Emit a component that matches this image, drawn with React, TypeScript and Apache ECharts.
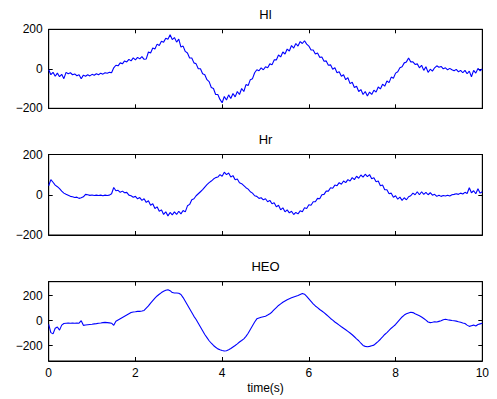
import React, { useEffect, useRef } from "react";
import * as echarts from "echarts";

const timeStep = 0.05;
const xTicks = [0, 2, 4, 6, 8, 10];
const titles = ["Hl", "Hr", "HEO"];
const xLabel = "time(s)";

const hl = [
  -5, -30, -18, -38, -22, -40, -28, -50, -18, -25,
  -20, -30, -26, -35, -30, -50, -32, -38, -30, -36,
  -28, -33, -25, -30, -22, -27, -20, -23, -18, -20,
  5, 18, 15, 30, 25, 40, 35, 48, 40, 55,
  45, 58, 50, 62, 48, 50, 85, 80, 105, 100,
  125, 118, 140, 135, 155, 150, 172, 148, 158, 135,
  150, 110, 115, 88, 80, 55, 55, 30, 25, 0,
  0, -25, -30, -55, -65, -95, -100, -130, -130, -155,
  -172, -140, -158, -132, -150, -125, -142, -115, -130, -100,
  -115, -80, -85, -55, -50, -20, -5, -10, 5, -5,
  10, 5, 25, 20, 45, 45, 70, 60, 85, 75,
  100, 90, 118, 105, 128, 115, 138, 128, 142, 125,
  115, 95, 95, 75, 80, 58, 60, 38, 40, 18,
  20, -2, 5, -20, -15, -38, -30, -55, -45, -75,
  -68, -95, -88, -115, -105, -130, -115, -138, -118, -130,
  -108, -118, -92, -102, -78, -88, -62, -70, -42, -48,
  -22, -15, 5, 10, 30, 35, 55, 35, 35, 22,
  25, 5, 18, -8, 10, -18, -2, -12, 5, 15,
  8, 12, 0, 5, -5, 2, -5, -10, -3, -15,
  -8, -20, -8, -25, -12, -40, -8, -22, 2, -10,
  0,
];

const hr = [
  45, 75, 62, 48, 40, 30, 18, 8, 2, -3,
  -8, -10, -14, -12, -18, -15, -10, 2, 0, -3,
  -1, -4, -2, -4, -2, -5, -2, -4, -2, 5,
  36, 20, 22, 12, 18, 10, 12, -2, -5, -12,
  -8, -20, -14, -28, -20, -38, -30, -52, -45, -68,
  -60, -82, -75, -98, -85, -105, -88, -100, -85, -98,
  -82, -95, -78, -85, -55, -48, -25, -20, -5, 5,
  15, 25, 38, 50, 60, 68, 78, 85, 88, 100,
  92, 112, 100, 108, 88, 95, 75, 78, 60, 55,
  45, 35, 28, 15, 8, -5, -8, -18, -15, -25,
  -20, -35, -28, -45, -40, -60, -52, -75, -65, -85,
  -75, -90, -82, -98, -88, -95, -80, -85, -65, -68,
  -50, -52, -35, -35, -18, -20, 0, 2, 18, 18,
  35, 32, 48, 45, 60, 52, 68, 60, 75, 68,
  85, 75, 92, 82, 98, 88, 102, 90, 100, 80,
  85, 65, 68, 45, 48, 25, 25, 5, 8, -12,
  -5, -22, -12, -28, -15, -25, -10, -5, 8, 0,
  15, 0, 15, 2, 12, 0, 10, -2, 2, -8,
  -2, -8, -4, -6, -2, -6, 0, 2, 5, 2,
  8, 4, 12, 6, 35, 10, 20, 5, 30, 8,
  15,
];

const heo = [
  -30, -95, -105, -60, -50, -75, -35, -22, -20, -19,
  -20, -19, -20, -19, -20, 0, -37, -34, -32, -30,
  -28, -25, -23, -20, -18, -15, -13, -15, -17, -20,
  -37, -5, 5, 15, 25, 35, 45, 55, 65, 70,
  72, 75, 75, 78, 82, 100, 118, 140, 160, 180,
  198, 212, 225, 235, 243, 248, 240, 225, 222, 222,
  220, 210, 185, 155, 125, 95, 65, 35, 10, -20,
  -50, -80, -110, -135, -160, -180, -198, -212, -225, -232,
  -238, -242, -240, -232, -222, -210, -198, -185, -170, -158,
  -145, -125, -100, -70, -40, -10, 15, 22, 28, 32,
  36, 45, 55, 70, 88, 105, 122, 135, 148, 158,
  168, 176, 183, 190, 196, 202, 210, 218, 212, 195,
  175, 155, 135, 118, 105, 90, 78, 65, 50, 35,
  18, 5, -10, -22, -35, -48, -60, -72, -85, -98,
  -112, -128, -145, -160, -180, -198, -205, -208, -205, -200,
  -195, -180, -165, -148, -130, -110, -95, -78, -60, -45,
  -30, -10, 10, 30, 45, 55, 62, 68, 65, 55,
  48, 40, 30, 18, 5, -10, -15, -12, -8, -10,
  -5, 0, 8, 12, 8, 5, 2, 0, -3, -8,
  -12, -18, -22, -35, -45, -40, -35, -42, -30, -25,
  -20,
];

const yMins = [-200, -200, -322];
const yMaxs = [200, 200, 312];
const yTickValues = [
  [-200, 0, 200],
  [-200, 0, 200],
  [-200, 0, 200],
];

const seriesList = [hl, hr, heo];

export default function App() {
  const ref = useRef<HTMLDivElement>(null);

  useEffect(() => {
    if (!ref.current) return;
    const chart = echarts.init(ref.current, null, { renderer: "svg" });
    const font = "Liberation Sans, Arial, Helvetica, sans-serif";
    const gridLeft = 48.7;
    const gridRight = 482.3;
    const gridTops = [29.3, 154.5, 281.7];
    const gridHeights = [79, 80.5, 79.3];

    const grids: any[] = [];
    const xAxes: any[] = [];
    const yAxes: any[] = [];
    const series: any[] = [];
    const graphics: any[] = [];

    const axisLine = { show: true, onZero: false, lineStyle: { color: "#000", width: 1 } };
    const tick = { show: true, inside: true, length: 4, lineStyle: { color: "#000", width: 1 } };

    for (let i = 0; i < 3; i++) {
      grids.push({
        left: gridLeft,
        top: gridTops[i],
        width: gridRight - gridLeft,
        height: gridHeights[i],
        containLabel: false,
        show: true,
        borderColor: "#000",
        borderWidth: 1,
        backgroundColor: "transparent",
      });
      const isLast = i === 2;
      xAxes.push({
        type: "value",
        gridIndex: i,
        position: "bottom",
        min: 0,
        max: 10,
        interval: 2,
        axisLine,
        axisTick: tick,
        splitLine: { show: false },
        axisLabel: {
          show: isLast,
          color: "#000",
          fontSize: 12,
          fontFamily: font,
          margin: 6,
        },
      });
      xAxes.push({
        type: "value",
        gridIndex: i,
        position: "top",
        min: 0,
        max: 10,
        interval: 2,
        axisLine,
        axisTick: tick,
        splitLine: { show: false },
        axisLabel: { show: false },
      });
      yAxes.push({
        type: "value",
        gridIndex: i,
        position: "left",
        min: yMins[i],
        max: yMaxs[i],
        axisLine,
        axisTick: { ...tick, customValues: yTickValues[i] },
        splitLine: { show: false },
        axisLabel: {
          show: true,
          color: "#000",
          fontSize: 12,
          fontFamily: font,
          margin: 6,
          customValues: yTickValues[i],
          formatter: (v: number) => (v < 0 ? "\u2212" + Math.abs(v) : String(v)),
        },
      });
      yAxes.push({
        type: "value",
        gridIndex: i,
        position: "right",
        min: yMins[i],
        max: yMaxs[i],
        axisLine,
        axisTick: { ...tick, customValues: yTickValues[i] },
        splitLine: { show: false },
        axisLabel: { show: false, customValues: yTickValues[i] },
      });
      series.push({
        type: "line",
        xAxisIndex: 2 * i,
        yAxisIndex: 2 * i,
        data: seriesList[i].map((v, k) => [k * timeStep, v]),
        showSymbol: false,
        symbol: "none",
        lineStyle: { color: "#0000ff", width: 1.1 },
        itemStyle: { color: "#0000ff" },
        clip: true,
      });
      graphics.push({
        type: "text",
        x: (gridLeft + gridRight) / 2,
        y: gridTops[i] - 15,
        style: {
          text: titles[i],
          fill: "#000",
          font: `13px ${font}`,
          textAlign: "center",
          textVerticalAlign: "middle",
        },
      });
    }

    graphics.push({
      type: "text",
      x: (gridLeft + gridRight) / 2,
      y: 388,
      style: {
        text: xLabel,
        fill: "#000",
        font: `12px ${font}`,
        textAlign: "center",
        textVerticalAlign: "middle",
      },
    });

    chart.setOption({
      animation: false,
      backgroundColor: "#fff",
      grid: grids,
      xAxis: xAxes,
      yAxis: yAxes,
      series,
      graphic: graphics,
    });

    return () => chart.dispose();
  }, []);

  return (
    <div
      ref={ref}
      style={{ position: "fixed", left: 0, top: 0, width: 497, height: 399, background: "#fff" }}
    />
  );
}
